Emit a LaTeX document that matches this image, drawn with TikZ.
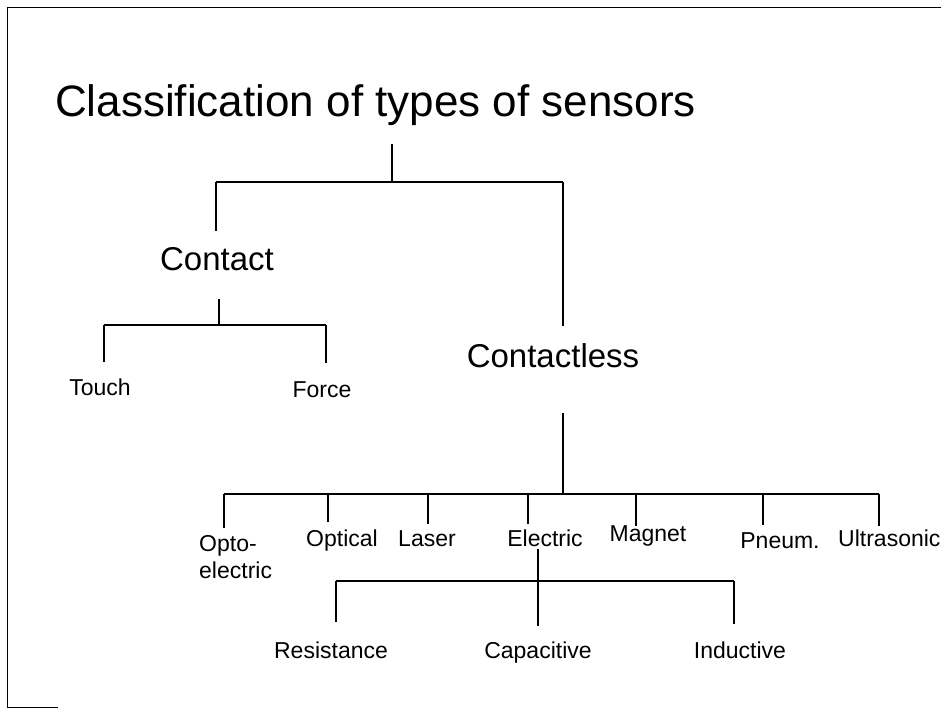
\documentclass[tikz,border=0pt]{standalone}
\usepackage{fontspec}
\setmainfont{Liberation Sans}
\begin{document}
\begin{tikzpicture}[x=1pt, y=-1pt,
    heading/.style ={font=\fontsize{44}{52}\selectfont, inner sep=0pt},
    category/.style ={font=\fontsize{33}{40}\selectfont, inner sep=0pt},
    sensor/.style ={font=\fontsize{23}{27}\selectfont, inner sep=0pt},
    link/.style ={line width=1.3pt}]
   \useasboundingbox (0,0) rectangle (941,712);
   % frame of the slide
   \draw[line width=0.9pt] (941,7) -- (7,7) -- (7,707) -- (58,707);

   \node[heading, anchor=base west] (T) at (55,116) {Classification of types of sensors};

   \node[category, anchor=base] (A) at (217,270) {Contact};
   \node[category, anchor=base] (B) at (553,367) {Contactless};

   \node[sensor, anchor=base] (A1) at (100,395) {Touch};
   \node[sensor, anchor=base] (A2) at (322,397) {Force};

   \node[sensor, anchor=north west, align=left] (B1) at (199,535) {Opto-\\electric};
   \node[sensor, anchor=base] (B2) at (342,546) {Optical};
   \node[sensor, anchor=base] (B3) at (427,546) {Laser};
   \node[sensor, anchor=base] (B4) at (545,546) {Electric};
   \node[sensor, anchor=base] (B5) at (648,541) {Magnet};
   \node[sensor, anchor=base] (B6) at (780,548) {Pneum.};
   \node[sensor, anchor=base west] (B7) at (838,546) {Ultrasonic};

   \node[sensor, anchor=base] (C1) at (331,658) {Resistance};
   \node[sensor, anchor=base] (C2) at (538,658) {Capacitive};
   \node[sensor, anchor=base] (C3) at (740,658) {Inductive};

   % ends and joints of the tree lines
   \coordinate (T-out) at (392,144);
   \coordinate (T-j)   at (392,182);
   \coordinate (A-j)   at (216,182);
   \coordinate (B-j)   at (563,182);
   \coordinate (A-in)  at (216,231);
   \coordinate (B-in)  at (563,326);

   \coordinate (A-out) at (219,299);
   \coordinate (A-j0)  at (219,325);
   \coordinate (A1-j)  at (104,325);
   \coordinate (A2-j)  at (326,325);
   \coordinate (A1-in) at (104,362);
   \coordinate (A2-in) at (326,363);

   \coordinate (B-out) at (563,413);
   \coordinate (B-j0)  at (563,494);
   \coordinate (B1-j)  at (224,494);
   \coordinate (B2-j)  at (328,494);
   \coordinate (B3-j)  at (428,494);
   \coordinate (B4-j)  at (528,494);
   \coordinate (B5-j)  at (636,494);
   \coordinate (B6-j)  at (763,494);
   \coordinate (B7-j)  at (879,494);
   \coordinate (B1-in) at (224,528);
   \coordinate (B2-in) at (328,522);
   \coordinate (B3-in) at (428,524);
   \coordinate (B4-in) at (528,524);
   \coordinate (B5-in) at (636,526);
   \coordinate (B6-in) at (763,525);
   \coordinate (B7-in) at (879,526);

   \coordinate (B4-out) at (538,549);
   \coordinate (C1-j)  at (336,581);
   \coordinate (C3-j)  at (734,581);
   \coordinate (C1-in) at (336,622);
   \coordinate (C2-in) at (538,626);
   \coordinate (C3-in) at (734,624);

   \draw[link] (T-out) to (T-j);
   \draw[link] (A-j) to (B-j);
   \draw[link] (A-j) to (A-in);
   \draw[link] (B-j) to (B-in);

   \draw[link] (A-out) to (A-j0);
   \draw[link] (A1-j) to (A2-j);
   \draw[link] (A1-j) to (A1-in);
   \draw[link] (A2-j) to (A2-in);

   \draw[link] (B-out) to (B-j0);
   \draw[link] (B1-j) to (B7-j);
   \draw[link] (B1-j) to (B1-in);
   \draw[link] (B2-j) to (B2-in);
   \draw[link] (B3-j) to (B3-in);
   \draw[link] (B4-j) to (B4-in);
   \draw[link] (B5-j) to (B5-in);
   \draw[link] (B6-j) to (B6-in);
   \draw[link] (B7-j) to (B7-in);

   \draw[link] (B4-out) to (C2-in);
   \draw[link] (C1-j) to (C3-j);
   \draw[link] (C1-j) to (C1-in);
   \draw[link] (C3-j) to (C3-in);

 \end{tikzpicture}
\end{document}
